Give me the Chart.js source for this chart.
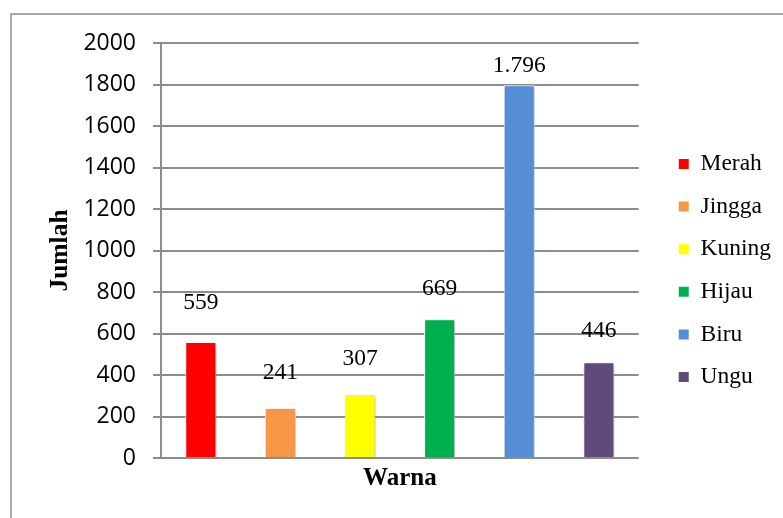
<!DOCTYPE html>
<html>
<head>
<meta charset="utf-8">
<script src="https://cdn.jsdelivr.net/npm/chart.js@4.4.1/dist/chart.umd.min.js"></script>
<style>
  html, body { margin: 0; padding: 0; background: #fff; }
  #wrap { width: 783px; height: 518px; }
</style>
</head>
<body>
<div id="wrap"><canvas id="chart" width="783" height="518"></canvas></div>
<script>
// data
const categories = ['Merah', 'Jingga', 'Kuning', 'Hijau', 'Biru', 'Ungu'];
const values = [559, 241, 307, 669, 1796, 462];
const valueLabels = ['559', '241', '307', '669', '1.796', '446'];
const colors = ['#FF0000', '#F79646', '#FFFF00', '#00B050', '#558ED5', '#604A7B'];
const yTicks = [0, 200, 400, 600, 800, 1000, 1200, 1400, 1600, 1800, 2000];

// how far above each bar its number sits (px)
const labelOffsets = [39, 35, 35, 30, 20, 31];

const gridColor = '#8c8c8c';
const serif = 'Liberation Serif, Times New Roman, serif';

// one dataset per colour so the legend lists each one
const datasets = categories.map((name, i) => ({
    label: name,
    data: categories.map((_, j) => (j === i ? values[i] : null)),
    backgroundColor: colors[i],
    borderColor: '#ffffff',
    borderWidth: 1,
    barPercentage: 0.39,
    categoryPercentage: 1
}));

// grey frame round the picture (only top and left edges show)
const framePlugin = {
    id: 'frame',
    beforeDraw(chart) {
        const ctx = chart.ctx;
        ctx.save();
        ctx.strokeStyle = gridColor;
        ctx.lineWidth = 1.5;
        ctx.beginPath();
        ctx.moveTo(11, chart.height + 2);
        ctx.lineTo(11, 14);
        ctx.lineTo(chart.width + 2, 14);
        ctx.stroke();
        ctx.restore();
    }
};

// soft shadow under bars + value labels above them
const barExtras = {
    id: 'barExtras',
    beforeDatasetsDraw(chart) {
        const ctx = chart.ctx;
        ctx.save();
        ctx.shadowColor = 'rgba(0,0,0,0.3)';
        ctx.shadowBlur = 4;
        ctx.shadowOffsetX = 1.5;
        ctx.shadowOffsetY = 1.5;
    },
    afterDatasetsDraw(chart) {
        const ctx = chart.ctx;
        ctx.restore();
        ctx.save();
        ctx.font = '23.5px ' + serif;
        ctx.fillStyle = '#000';
        ctx.textAlign = 'center';
        ctx.textBaseline = 'middle';
        chart.data.datasets.forEach((ds, i) => {
            const bar = chart.getDatasetMeta(i).data[i];
            if (!bar) return;
            ctx.fillText(valueLabels[i], bar.x, bar.y - labelOffsets[i]);
        });
        ctx.restore();
    }
};

new Chart(document.getElementById('chart'), {
    type: 'bar',
    data: {
        labels: categories,
        datasets: datasets
    },
    options: {
        responsive: false,
        animation: false,
        skipNull: true,
        layout: {
            padding: { top: 43, right: 2, bottom: 20, left: 0 }
        },
        scales: {
            x: {
                grid: { display: false },
                border: { display: false },
                ticks: { display: false },
                title: {
                    display: true,
                    text: 'Warna',
                    color: '#000',
                    font: { family: serif, size: 25, weight: 'bold' },
                    padding: { top: 0, bottom: 4.5 }
                },
                afterFit(axis) { axis.height = 40; }
            },
            y: {
                min: 0,
                max: 2000,
                afterBuildTicks(axis) { axis.ticks = yTicks.map(v => ({ value: v })); },
                grid: { color: gridColor, lineWidth: 2, tickLength: 8, drawTicks: true },
                border: { color: gridColor, width: 2 },
                ticks: {
                    color: '#000',
                    padding: 17,
                    font: { family: 'Open Sans, Liberation Sans, sans-serif', size: 23 },
                    callback: v => String(v)
                },
                title: {
                    display: true,
                    text: 'Jumlah',
                    color: '#000',
                    font: { family: serif, size: 25.5, weight: 'bold' },
                    padding: { top: 45, bottom: 0 }
                },
                afterFit(axis) { axis.width = 161; }
            },
            // empty spacer between plot and legend
            gap: {
                type: 'linear',
                position: 'right',
                grid: { display: false },
                border: { display: false },
                ticks: { display: false },
                afterFit(axis) { axis.width = 21; }
            }
        },
        plugins: {
            legend: {
                position: 'right',
                align: 'center',
                labels: {
                    boxWidth: 10,
                    boxHeight: 10,
                    padding: 19.1,
                    color: '#000',
                    font: { family: serif, size: 23.5 },
                    generateLabels(chart) {
                        return chart.data.datasets.map((ds, i) => ({
                            text: ds.label,
                            fillStyle: colors[i],
                            strokeStyle: colors[i],
                            lineWidth: 0,
                            hidden: false,
                            datasetIndex: i
                        }));
                    }
                }
            },
            tooltip: { enabled: false }
        }
    },
    plugins: [framePlugin, barExtras]
});
</script>
</body>
</html>
